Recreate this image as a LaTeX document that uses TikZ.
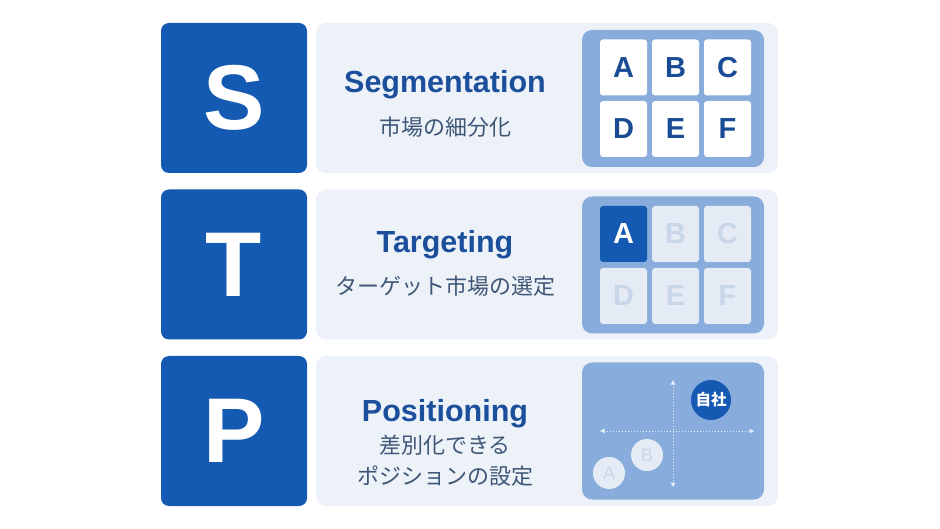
\documentclass[tikz,border=0pt]{standalone}
\usepackage{fontspec}
\setmainfont{Liberation Sans}
\newfontfamily\jp{Noto Sans CJK JP}
\usetikzlibrary{arrows.meta}
\definecolor{mainblue}{HTML}{1459B2}
\definecolor{titleblue}{HTML}{1B4E9B}
\definecolor{panelbg}{HTML}{EDF2F9}
\definecolor{gridbg}{HTML}{88ACDB}
\definecolor{subtext}{HTML}{3E5777}
\definecolor{fadecell}{HTML}{E4EBF5}
\definecolor{fadetext}{HTML}{C9D6E8}
\definecolor{celltext}{HTML}{1A4C95}
\tikzset{
  letterbox/.style={fill=mainblue, rounded corners=8pt, minimum width=146pt, minimum height=150pt, text=white, font=\fontsize{92}{92}\selectfont\bfseries, inner sep=0pt},
  panel/.style={fill=panelbg, rounded corners=10pt, minimum width=462pt, minimum height=150pt, inner sep=0pt},
  gridbox/.style={fill=gridbg, rounded corners=10pt, minimum width=182pt, minimum height=137pt, inner sep=0pt},
  cell/.style={fill=white, rounded corners=3pt, minimum width=47pt, minimum height=56pt, inner sep=0pt, text=celltext, font=\fontsize{29}{29}\selectfont\bfseries},
  fcell/.style={cell, fill=fadecell, text=fadetext},
  acell/.style={cell, fill=mainblue, text=white},
  title/.style={text=titleblue, font=\fontsize{30.5}{30.5}\selectfont\bfseries, inner sep=0pt, anchor=base},
  sub/.style={text=subtext, font=\jp\fontsize{22}{22}\selectfont, inner sep=0pt},
  axis/.style={white!80!gridbg, line width=1pt, dotted, {Triangle[width=4.5pt,length=4.5pt]}-{Triangle[width=4.5pt,length=4.5pt]}},
  fcircle/.style={circle, fill=fadecell, minimum size=32pt, inner sep=0pt, text=fadetext, font=\fontsize{18}{18}\selectfont},
}
\begin{document}
\begin{tikzpicture}[x=1pt,y=-1pt]
\useasboundingbox[fill=white] (0,0) rectangle (940,529);
% rows
\node[letterbox] (S) at (234,98) {S};
\node[letterbox] (T) at (234,264.5) {T};
\node[letterbox] (P) at (234,431) {P};
\node[panel] (ps) at (547,98) {};
\node[panel] (pt) at (547,264.5) {};
\node[panel] (pp) at (547,431) {};
% texts
\node[title] (segt) at (445,92.5) {Segmentation};
\node[sub] (segs) at (445,127.5) {市場の細分化};
\node[title] (tart) at (445,252.5) {Targeting};
\node[sub] (tars) at (445,286) {ターゲット市場の選定};
\node[title] (post) at (445,421) {Positioning};
\node[sub] (poss1) at (445,445) {差別化できる};
\node[sub] (poss2) at (445,476.5) {ポジションの設定};
% grid S
\node[gridbox] (gs) at (673,98.5) {};
\node[cell] (sa) at (623.5,67.5) {A};
\node[cell] (sb) at (675.5,67.5) {B};
\node[cell] (sc) at (727.5,67.5) {C};
\node[cell] (sd) at (623.5,129) {D};
\node[cell] (se) at (675.5,129) {E};
\node[cell] (sf) at (727.5,129) {F};
% grid T
\node[gridbox] (gt) at (673,265) {};
\node[acell] (ta) at (623.5,234) {A};
\node[fcell] (tb) at (675.5,234) {B};
\node[fcell] (tc) at (727.5,234) {C};
\node[fcell] (td) at (623.5,296) {D};
\node[fcell] (te) at (675.5,296) {E};
\node[fcell] (tf) at (727.5,296) {F};
% positioning map
\node[gridbox] (gp) at (673,431) {};
\coordinate (hl) at (600,431);
\coordinate (hr) at (754,431);
\coordinate (vt) at (673,380);
\coordinate (vb) at (673,487);
\draw[axis] (hl) -- (hr);
\draw[axis] (vt) -- (vb);
\node[circle, fill=mainblue, minimum size=40pt, inner sep=0pt, text=white, font=\jp\bfseries\fontsize{15.5}{15.5}\selectfont] (self) at (711,400) {自社};
\node[fcircle] (cb) at (647,455) {B};
\node[fcircle] (ca) at (609,473) {A};
\end{tikzpicture}
\end{document}
